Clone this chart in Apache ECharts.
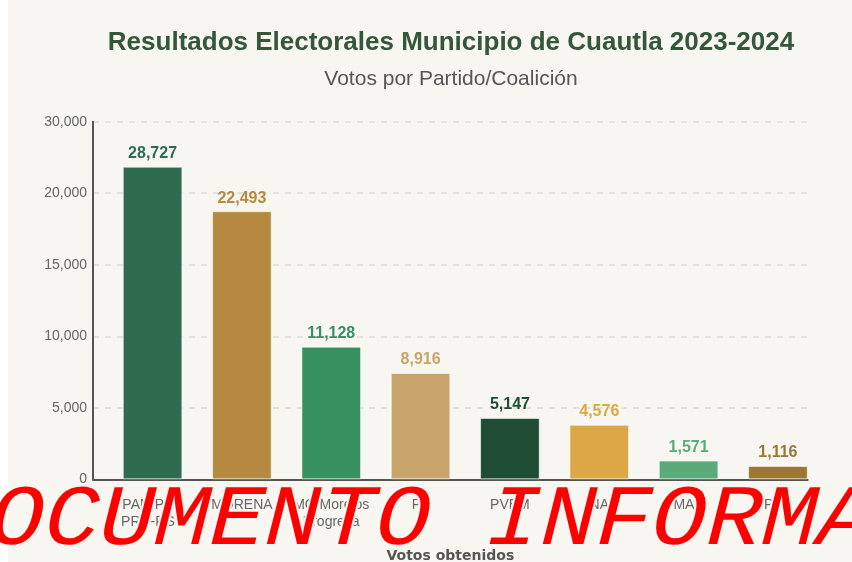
<!DOCTYPE html>
<html>
<head>
<meta charset="utf-8">
<script src="https://cdn.jsdelivr.net/npm/echarts@6/dist/echarts.min.js"></script>
<style>
  html, body { margin: 0; padding: 0; background: #fff; }
  #paper { position: absolute; left: 8px; top: 0; width: 844px; height: 562px; background: #f8f6f1; }
  #chart { position: absolute; left: 0; top: 0; width: 852px; height: 562px; }
</style>
</head>
<body>
<div id="paper"></div>
<div id="chart"></div>
<script>
// party / coalition names (line breaks as in the picture)
var categories = ['PAN-PRI-\nPRD-RSP', 'MORENA', 'MC-Morelos\nProgresa', 'PT', 'PVEM', 'NA', 'MAS', 'PES'];
// numbers printed above the bars
var votes = [28727, 22493, 11128, 8916, 5147, 4576, 1571, 1116];
// bar heights as drawn on the axis (first bar is drawn shorter than its label)
var barValues = [26225, 22493, 11128, 8916, 5147, 4576, 1571, 1116];
// y tick labels as printed (ticks every 6000 on a 0-30000 scale)
var yTickLabels = ['0', '5,000', '10,000', '15,000', '20,000', '30,000'];

var colors = ['#2e6b4f', '#b58a40', '#37905f', '#c9a46b', '#1e4d33', '#dba845', '#5bab7a', '#9c7633'];

var chart = echarts.init(document.getElementById('chart'));

var barData = [];
for (var i = 0; i < barValues.length; i++) {
  barData.push({
    value: barValues[i],
    itemStyle: { color: colors[i] },
    label: { color: colors[i] }
  });
}
var spacer = [];
for (var j = 0; j < categories.length; j++) spacer.push('-');

var option = {
  animation: false,
  graphic: [
    {
      type: 'text', x: 451, y: 43, z: 10,
      style: {
        text: 'Resultados Electorales Municipio de Cuautla 2023-2024',
        fontSize: 26, fontWeight: 'bold',
        fontFamily: '"Liberation Sans", Arial, sans-serif',
        fill: '#34573a', align: 'center', verticalAlign: 'middle'
      }
    },
    {
      type: 'text', x: 451, y: 79, z: 10,
      style: {
        text: 'Votos por Partido/Coalición',
        fontSize: 21,
        fontFamily: '"Liberation Sans", Arial, sans-serif',
        fill: '#555', align: 'center', verticalAlign: 'middle'
      }
    },
    {
      // red watermark across the category labels, slanted like an italic face
      type: 'text', x: -66, y: 521, z: 100,
      skewX: -0.25,
      scaleX: 1.07,
      style: {
        text: 'DOCUMENTO INFORMATIVO',
        fontSize: 86,
        fontFamily: '"Liberation Mono", monospace',
        fill: '#ff0000', align: 'left', verticalAlign: 'middle',
        stroke: '#f8f6f1', lineWidth: 4
      }
    }
  ],
  grid: { left: 93, right: 44.3, top: 121.7, bottom: 82.7, containLabel: false, outerBoundsMode: 'none' },
  xAxis: {
    type: 'category',
    data: categories,
    axisLine: { lineStyle: { color: '#555', width: 2 } },
    axisTick: { show: false },
    axisLabel: {
      interval: 0,
      hideOverlap: false,
      margin: 17,
      color: '#666',
      fontSize: 14,
      lineHeight: 17,
      fontFamily: '"Liberation Sans", Arial, sans-serif',
      padding: [0, 0, 0, 29.8]
    },
    name: 'Votos obtenidos',
    nameLocation: 'middle',
    nameGap: 70,
    nameTextStyle: {
      color: '#555',
      fontSize: 14,
      fontWeight: 'bold',
      fontFamily: '"DejaVu Sans", sans-serif'
    }
  },
  yAxis: {
    type: 'value',
    min: 0,
    max: 30000,
    interval: 6000,
    axisLine: { show: true, lineStyle: { color: '#555', width: 2 } },
    axisTick: { show: false },
    axisLabel: {
      color: '#666',
      fontSize: 14,
      margin: 6,
      padding: [0, 0, 10, 0],
      fontFamily: '"Liberation Sans", Arial, sans-serif',
      formatter: function (v) { return yTickLabels[Math.round(v / 6000)]; }
    },
    splitLine: { lineStyle: { color: '#dedbd5', type: [6, 6], width: 1.5 } }
  },
  series: [
    {
      name: 'spacer',
      type: 'bar',
      barWidth: 29.8,
      data: spacer,
      silent: true
    },
    {
      name: 'Votos',
      type: 'bar',
      barWidth: 59.6,
      barGap: '0%',
      data: barData,
      itemStyle: { borderColor: 'rgba(255,255,255,0.55)', borderWidth: 1 },
      label: {
        show: true,
        position: 'top',
        distance: 5,
        fontSize: 16,
        fontWeight: 'bold',
        fontFamily: '"Liberation Sans", Arial, sans-serif',
        formatter: function (p) { return votes[p.dataIndex].toLocaleString('en-US'); }
      }
    }
  ]
};

chart.setOption(option);
</script>
</body>
</html>
